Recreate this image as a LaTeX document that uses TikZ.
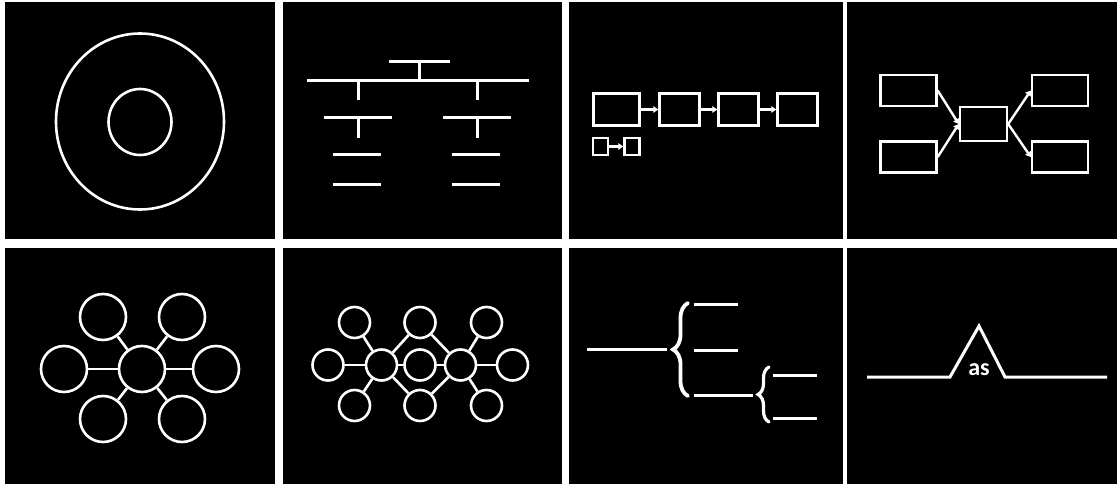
\documentclass[tikz,border=0pt]{standalone}
\usepackage{fontspec}
\newfontfamily\labelfont{Carlito}
\usetikzlibrary{arrows.meta,decorations.pathreplacing}
\begin{document}
\begin{tikzpicture}[x=1pt,y=-1pt,
  panel/.style={fill=black},
  bar/.style={white,line width=3pt},
  ring/.style={draw=white,line width=2.6pt,circle,inner sep=0pt},
  box/.style={draw=white,line width=2.4pt,rectangle,inner sep=0pt},
  arr/.style={white,line width=2.4pt,-{Triangle[length=5pt,width=6.5pt]}},
  link/.style={white,line width=2.6pt},
  brc/.style={white,line width=3.8pt,line cap=round,decorate},
]
\fill[white] (0,0) rectangle (1117,484);
\useasboundingbox (0,0) rectangle (1117,484);
% panels
\fill[panel] (5,2) rectangle (275,239);
\fill[panel] (283,2) rectangle (562,239);
\fill[panel] (569,2) rectangle (843,239);
\fill[panel] (847,2) rectangle (1117,239);
\fill[panel] (5,248) rectangle (275,484);
\fill[panel] (283,248) rectangle (562,484);
\fill[panel] (569,248) rectangle (843,484);
\fill[panel] (847,248) rectangle (1117,484);

% panel 1: concentric rings
\draw[white,line width=2.6pt] (140,121.5) ellipse [x radius=84, y radius=88];
\draw[white,line width=2.6pt] (140,122) ellipse [x radius=31.5, y radius=33];

% panel 2: tree of bars
\draw[bar] (389,62) -- (450,62);
\draw[bar] (419,62) -- (419,81);
\draw[bar] (307,81) -- (529,81);
\draw[bar] (358,81) -- (358,100);
\draw[bar] (477,81) -- (477,100);
\draw[bar] (324,118) -- (392,118);
\draw[bar] (443,118) -- (511,118);
\draw[bar] (358,118) -- (358,138);
\draw[bar] (477,118) -- (477,138);
\draw[bar] (333,155) -- (381,155);
\draw[bar] (452,155) -- (500,155);
\draw[bar] (333,185) -- (381,185);
\draw[bar] (452,185) -- (500,185);

% panel 3: chain of boxes
\node[box,minimum width=46pt,minimum height=32pt] (b1) at (616.5,109.5) {};
\node[box,minimum width=40pt,minimum height=32pt] (b2) at (679.5,109.5) {};
\node[box,minimum width=40pt,minimum height=32pt] (b3) at (738.5,109.5) {};
\node[box,minimum width=40pt,minimum height=32pt] (b4) at (797.5,109.5) {};
\draw[arr] (b1) -- (b2);
\draw[arr] (b2) -- (b3);
\draw[arr] (b3) -- (b4);
\node[box,minimum width=15pt,minimum height=17pt] (s1) at (600.5,146.5) {};
\node[box,minimum width=15pt,minimum height=17pt] (s2) at (632,146.5) {};
\draw[arr] (s1) -- (s2);

% panel 4: converge / diverge
\node[box,minimum width=56pt,minimum height=31pt] (tl) at (908.5,90.5) {};
\node[box,minimum width=56pt,minimum height=31pt] (bl) at (908.5,157) {};
\node[box,minimum width=47pt,minimum height=34pt] (cc) at (983.5,124) {};
\node[box,minimum width=56pt,minimum height=31pt] (tr) at (1060,90.5) {};
\node[box,minimum width=56pt,minimum height=31pt] (br) at (1060,157) {};
\draw[arr] (tl.east) -- (cc.west);
\draw[arr] (bl.east) -- (cc.west);
\draw[arr] (cc.east) -- (tr.west);
\draw[arr] (cc.east) -- (br.west);

% panel 5: bubble map
\begin{scope}[every node/.style={ring,minimum size=46pt}]
\node (h) at (142,369) {};
\node (p1) at (103,317) {};
\node (p2) at (182,317) {};
\node (p3) at (64,369) {};
\node (p4) at (216,369) {};
\node (p5) at (103,419) {};
\node (p6) at (182,419) {};
\end{scope}
\foreach \n in {p1,p2,p3,p4,p5,p6} \draw[link] (h) -- (\n);

% panel 6: double bubble map
\begin{scope}[every node/.style={ring,minimum size=31pt}]
\node (ha) at (381.5,365) {};
\node (hb) at (460.5,365) {};
\node (m) at (420,365) {};
\node (q1) at (354.5,322.5) {};
\node (q2) at (420,322.5) {};
\node (q3) at (486.5,322.5) {};
\node (q4) at (328,365) {};
\node (q5) at (512.5,365) {};
\node (q6) at (354.5,405.5) {};
\node (q7) at (420,405.5) {};
\node (q8) at (486.5,405.5) {};
\end{scope}
\foreach \n in {q1,q4,q6,m,q2,q7} \draw[link] (ha) -- (\n);
\foreach \n in {q3,q5,q8,m,q2,q7} \draw[link] (hb) -- (\n);

% panel 7: brace map
\coordinate (r0) at (587,349);
\coordinate (r1) at (667,349);
\draw[bar] (r0) -- (r1);
\draw[brc,decoration={brace,amplitude=15pt}] (688,396) -- (688,303);
\coordinate (u1) at (694,304);
\coordinate (u2) at (738,304);
\coordinate (v1) at (694,350);
\coordinate (v2) at (738,350);
\coordinate (w1) at (694,395);
\coordinate (w2) at (753,395);
\draw[bar] (u1) -- (u2);
\draw[bar] (v1) -- (v2);
\draw[bar] (w1) -- (w2);
\draw[brc,line width=3.2pt,decoration={brace,amplitude=11pt}] (769,422) -- (769,367);
\coordinate (x1) at (773,375);
\coordinate (x2) at (817,375);
\coordinate (y1) at (773,418);
\coordinate (y2) at (817,418);
\draw[bar] (x1) -- (x2);
\draw[bar] (y1) -- (y2);

% panel 8: bridge map
\coordinate (g0) at (867,377);
\coordinate (g1) at (950,377);
\coordinate (g2) at (979,326);
\coordinate (g3) at (1005,377);
\coordinate (g4) at (1107,377);
\draw[bar,line join=miter] (g0) -- (g1) -- (g2) -- (g3) -- (g4);
\node[text=white,font=\labelfont\bfseries\fontsize{24}{24}\selectfont] (as) at (979,370) {as};
\end{tikzpicture}
\end{document}
